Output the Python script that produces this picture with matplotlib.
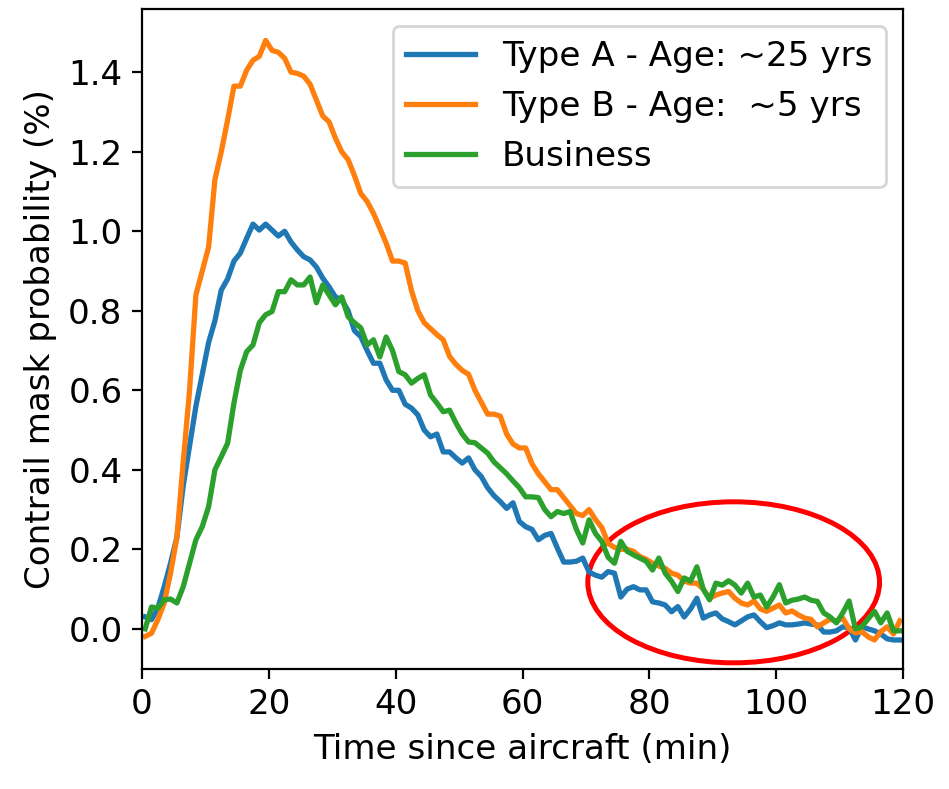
import numpy as np
import matplotlib
matplotlib.use("Agg")
import matplotlib.pyplot as plt
from matplotlib.patches import Ellipse

# time bin centres (minutes)
time_min = np.arange(120) + 0.5

type_a = [0.03, 0.023, 0.052, 0.106, 0.165, 0.23, 0.36, 0.46, 0.56, 0.64,
          0.72, 0.775, 0.852, 0.88, 0.925, 0.945, 0.982, 1.018, 1.003, 1.018,
          1.003, 0.988, 1.0, 0.973, 0.953, 0.936, 0.928, 0.91, 0.882, 0.86,
          0.835, 0.827, 0.80, 0.75, 0.735, 0.70, 0.668, 0.668, 0.626, 0.60,
          0.60, 0.565, 0.555, 0.538, 0.50, 0.483, 0.49, 0.445, 0.445, 0.43,
          0.417, 0.43, 0.40, 0.383, 0.355, 0.335, 0.32, 0.303, 0.317, 0.27,
          0.257, 0.25, 0.224, 0.235, 0.24, 0.203, 0.168, 0.168, 0.17, 0.178,
          0.143, 0.135, 0.13, 0.144, 0.14, 0.08, 0.10, 0.106, 0.098, 0.098,
          0.068, 0.065, 0.06, 0.043, 0.056, 0.03, 0.05, 0.077, 0.027, 0.035,
          0.04, 0.025, 0.018, 0.01, 0.02, 0.03, 0.035, 0.018, 0.003, 0.008,
          0.015, 0.01, 0.01, 0.012, 0.015, 0.012, 0.01, -0.008, -0.008, -0.005,
          0.005, 0.003, -0.028, 0.005, 0.0, -0.005, -0.013, -0.025, -0.028, -0.028]

type_b = [-0.019, -0.011, 0.023, 0.065, 0.14, 0.23, 0.42, 0.60, 0.84, 0.90,
          0.96, 1.13, 1.20, 1.28, 1.365, 1.365, 1.405, 1.43, 1.44, 1.48,
          1.455, 1.45, 1.435, 1.40, 1.397, 1.39, 1.37, 1.33, 1.29, 1.275,
          1.234, 1.20, 1.18, 1.14, 1.095, 1.075, 1.045, 1.008, 0.97, 0.925,
          0.925, 0.92, 0.85, 0.80, 0.77, 0.755, 0.74, 0.727, 0.685, 0.665,
          0.65, 0.64, 0.60, 0.57, 0.54, 0.54, 0.535, 0.49, 0.465, 0.455,
          0.455, 0.415, 0.39, 0.37, 0.35, 0.35, 0.33, 0.31, 0.29, 0.285,
          0.30, 0.275, 0.255, 0.215, 0.205, 0.20, 0.20, 0.195, 0.182, 0.175,
          0.165, 0.158, 0.152, 0.14, 0.135, 0.12, 0.115, 0.115, 0.10, 0.077,
          0.085, 0.09, 0.094, 0.077, 0.065, 0.06, 0.07, 0.05, 0.044, 0.052,
          0.06, 0.04, 0.045, 0.035, 0.027, 0.024, 0.005, 0.015, 0.024, 0.02,
          0.027, 0.0, -0.01, -0.007, -0.02, -0.028, -0.007, 0.005, -0.013, 0.02]

business = [0.0, 0.055, 0.052, 0.073, 0.075, 0.065, 0.106, 0.165, 0.224, 0.257,
            0.307, 0.40, 0.433, 0.467, 0.568, 0.65, 0.697, 0.714, 0.77, 0.79,
            0.798, 0.848, 0.848, 0.878, 0.865, 0.865, 0.885, 0.82, 0.865, 0.84,
            0.815, 0.835, 0.785, 0.77, 0.757, 0.714, 0.727, 0.684, 0.734, 0.70,
            0.647, 0.639, 0.618, 0.63, 0.639, 0.588, 0.568, 0.546, 0.55, 0.518,
            0.49, 0.47, 0.468, 0.455, 0.442, 0.42, 0.405, 0.39, 0.372, 0.355,
            0.332, 0.332, 0.33, 0.30, 0.282, 0.295, 0.29, 0.295, 0.25, 0.216,
            0.274, 0.24, 0.22, 0.18, 0.165, 0.22, 0.195, 0.186, 0.178, 0.17,
            0.148, 0.178, 0.14, 0.12, 0.094, 0.128, 0.12, 0.156, 0.10, 0.073,
            0.115, 0.11, 0.121, 0.11, 0.09, 0.115, 0.08, 0.085, 0.055, 0.08,
            0.111, 0.065, 0.072, 0.075, 0.08, 0.072, 0.069, 0.04, 0.03, 0.015,
            0.04, 0.07, 0.0, 0.005, 0.025, 0.044, 0.015, 0.04, -0.005, -0.005]

labels = ["Type A - Age: ~25 yrs", "Type B - Age:  ~5 yrs", "Business"]

# highlighted region (data coords)
ell_center = (93.3, 0.117)
ell_width = 46.0
ell_height = 0.405

plt.rcParams['font.size'] = 12.3

fig = plt.figure(figsize=(949 / 200, 789 / 200), dpi=200)
ax = fig.add_axes([142 / 949, 1 - 669 / 789, (903 - 142) / 949, (669 - 9) / 789])

ax.plot(time_min, type_a, label=labels[0], linewidth=1.9)
ax.plot(time_min, type_b, label=labels[1], linewidth=1.9)
ax.plot(time_min, business, label=labels[2], linewidth=1.9)

ax.add_patch(Ellipse(ell_center, ell_width, ell_height, fill=False,
                     edgecolor='red', linewidth=1.8))

ax.set_xlim(0, 120)
ax.set_ylim(-0.101, 1.559)
ax.set_xlabel("Time since aircraft (min)")
ax.set_ylabel("Contrail mask probability (%)")
ax.legend(loc='upper right')

fig.savefig("out.png", dpi=200)
